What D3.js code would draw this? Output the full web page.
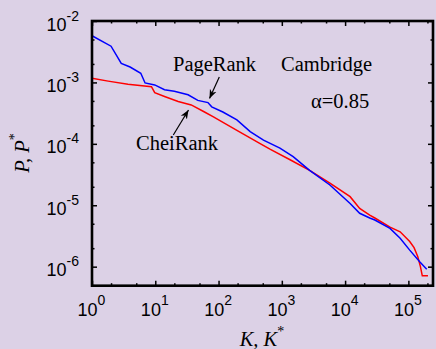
<!DOCTYPE html>
<html>
<head>
<meta charset="utf-8">
<script src="https://cdn.jsdelivr.net/npm/d3@7"></script>
<style>
  body { margin: 0; background: #dcd1e6; }
  svg { display: block; }
  .tick text { font-family: "Liberation Sans", Arial, sans-serif; }
  .note { font-family: "Liberation Serif", "Times New Roman", serif; font-size: 20.5px; fill: #000; }
</style>
</head>
<body>
<div id="chart"></div>
<script>
// PageRank P(K)
const pageK = [1, 2, 2.9, 4, 5.9, 6.9, 9.8, 14, 20, 33, 47, 68, 78, 117, 195, 316, 513, 933,
               1510, 2750, 5750, 12000, 17000, 24500, 29500, 51300, 74100, 105000, 151000, 195000];
const pageP = [5.75e-3, 3.89e-3, 2.04e-3, 1.78e-3, 1.41e-3, 9.8e-4, 9.1e-4, 7.6e-4, 7.2e-4, 6.3e-4,
               5.1e-4, 4.7e-4, 4.0e-4, 3.3e-4, 2.45e-4, 1.58e-4, 1.15e-4, 8.5e-5,
               6.2e-5, 3.7e-5, 2.14e-5, 1.07e-5, 7.4e-6, 6.2e-6, 5.75e-6, 4.2e-6, 2.9e-6, 1.86e-6, 1.2e-6, 9.1e-7];

// CheiRank P*(K*)
const cheiK = [1, 1.8, 3.7, 8.7, 9.8, 14, 23, 37, 60, 83, 195, 447, 660, 1350, 2750, 5750,
               12000, 17000, 24500, 29500, 51300, 74100, 105000, 123000, 141000, 155000, 166000, 204000];
const cheiP = [1.17e-3, 1.05e-3, 9.3e-4, 8.5e-4, 6.8e-4, 5.9e-4, 4.9e-4, 4.3e-4, 3.3e-4, 2.75e-4,
               1.66e-4, 1.02e-4, 8.1e-5, 5.5e-5, 3.7e-5, 2.3e-5,
               1.38e-5, 8.9e-6, 6.9e-6, 6.2e-6, 4.4e-6, 3.7e-6, 2.57e-6, 2.04e-6, 1.45e-6, 1.0e-6, 7.1e-7, 7.1e-7];

const xMajor = [1, 10, 100, 1000, 10000, 100000];
const yMajor = [1e-2, 1e-3, 1e-4, 1e-5, 1e-6];
const xExp = ["0", "1", "2", "3", "4", "5"];
const yExp = ["-2", "-3", "-4", "-5", "-6"];

const W = 436, H = 349;
const plotL = 92, plotR = 433, plotT = 21, plotB = 285.7;

const svg = d3.select("#chart").append("svg")
    .attr("width", W)
    .attr("height", H);

svg.append("rect").attr("width", W).attr("height", H).attr("fill", "#dcd1e6");

const x = d3.scaleLog().domain([1, 245000]).range([plotL, plotR]);
const y = d3.scaleLog().domain([1e-2, 4.9e-7]).range([plotT, plotB]);

// minor ticks at 2 and 5 in each decade
const xMinor = [];
for (let d = 1; d <= 100000; d *= 10) [2, 5].forEach(m => { if (m * d < 245000) xMinor.push(m * d); });
const yMinor = [];
for (let d = 1e-7; d < 1e-2; d *= 10) [2, 5].forEach(m => { if (m * d > 4.9e-7 && m * d < 1e-2) yMinor.push(m * d); });

function tickLayer(axis, tr) {
    const g = svg.append("g").attr("transform", tr).call(axis);
    g.select(".domain").remove();
    g.selectAll(".tick line").attr("stroke", "#000").attr("stroke-width", 1.5);
    return g;
}

// major ticks (pointing inward) on all four sides
const gx = tickLayer(d3.axisBottom(x).tickValues(xMajor).tickSize(-5).tickFormat(""), `translate(0,${plotB})`);
tickLayer(d3.axisTop(x).tickValues(xMajor).tickSize(-5).tickFormat(""), `translate(0,${plotT})`);
const gy = tickLayer(d3.axisLeft(y).tickValues(yMajor).tickSize(-5).tickFormat(""), `translate(${plotL},0)`);
tickLayer(d3.axisRight(y).tickValues(yMajor).tickSize(-5).tickFormat(""), `translate(${plotR},0)`);
// minor ticks
tickLayer(d3.axisBottom(x).tickValues(xMinor).tickSize(-2.5).tickFormat(""), `translate(0,${plotB})`);
tickLayer(d3.axisTop(x).tickValues(xMinor).tickSize(-2.5).tickFormat(""), `translate(0,${plotT})`);
tickLayer(d3.axisLeft(y).tickValues(yMinor).tickSize(-2.5).tickFormat(""), `translate(${plotL},0)`);
tickLayer(d3.axisRight(y).tickValues(yMinor).tickSize(-2.5).tickFormat(""), `translate(${plotR},0)`);

// tick labels 10^n
gx.selectAll(".tick").each(function (d, i) {
    const t = d3.select(this).append("text")
        .attr("x", -1).attr("y", 316 - plotB)
        .attr("text-anchor", "middle")
        .attr("fill", "#000")
        .attr("font-size", 18);
    t.append("tspan").text("10");
    t.append("tspan").attr("dy", -10.5).attr("font-size", 14).text(xExp[i]);
});
gy.selectAll(".tick").each(function (d, i) {
    const t = d3.select(this).append("text")
        .attr("x", 79 - plotL).attr("y", 9)
        .attr("text-anchor", "end")
        .attr("fill", "#000")
        .attr("font-size", 18);
    t.append("tspan").text("10");
    t.append("tspan").attr("dy", -10).attr("font-size", 14).text(yExp[i]);
});

// curves
const line = d3.line().x(d => x(d[0])).y(d => y(d[1]));
svg.append("path")
    .datum(cheiK.map((k, i) => [k, cheiP[i]]))
    .attr("d", line)
    .attr("fill", "none").attr("stroke", "#ff0000").attr("stroke-width", 1.5);
svg.append("path")
    .datum(pageK.map((k, i) => [k, pageP[i]]))
    .attr("d", line)
    .attr("fill", "none").attr("stroke", "#0000ff").attr("stroke-width", 1.5);

// frame
svg.append("rect")
    .attr("x", plotL).attr("y", plotT)
    .attr("width", plotR - plotL).attr("height", plotB - plotT)
    .attr("fill", "none").attr("stroke", "#000").attr("stroke-width", 2.6);

// axis titles
const xt = svg.append("text").attr("class", "note")
    .attr("x", 262).attr("y", 346).attr("text-anchor", "middle")
    .attr("font-style", "italic");
xt.append("tspan").text("K, K");
xt.append("tspan").attr("dy", -10).attr("font-size", 14).attr("font-style", "normal").text("*");

const yt = svg.append("text").attr("class", "note")
    .attr("transform", "translate(29,153) rotate(-90)")
    .attr("text-anchor", "middle")
    .attr("font-style", "italic");
yt.append("tspan").text("P, P");
yt.append("tspan").attr("dy", -10).attr("font-size", 14).attr("font-style", "normal").text("*");

// annotations
svg.append("text").attr("class", "note").attr("x", 173).attr("y", 71).text("PageRank");
svg.append("text").attr("class", "note").attr("x", 281).attr("y", 71).text("Cambridge");
svg.append("text").attr("class", "note").attr("x", 311).attr("y", 108).text("\u03b1=0.85");
svg.append("text").attr("class", "note").attr("x", 136).attr("y", 150).text("CheiRank");

const defs = svg.append("defs");
defs.append("marker")
    .attr("id", "head")
    .attr("viewBox", "0 0 10 10")
    .attr("refX", 10).attr("refY", 5)
    .attr("markerWidth", 9).attr("markerHeight", 9)
    .attr("markerUnits", "userSpaceOnUse")
    .attr("orient", "auto")
  .append("path")
    .attr("d", "M0,1 L10,5 L0,9 L3,5 Z")
    .attr("fill", "#000");

svg.append("line")
    .attr("x1", 219.3).attr("y1", 77).attr("x2", 209.5).attr("y2", 98.5)
    .attr("stroke", "#000").attr("stroke-width", 1.2).attr("marker-end", "url(#head)");
svg.append("line")
    .attr("x1", 173.3).attr("y1", 135).attr("x2", 188.5).attr("y2", 110)
    .attr("stroke", "#000").attr("stroke-width", 1.2).attr("marker-end", "url(#head)");
</script>
</body>
</html>
